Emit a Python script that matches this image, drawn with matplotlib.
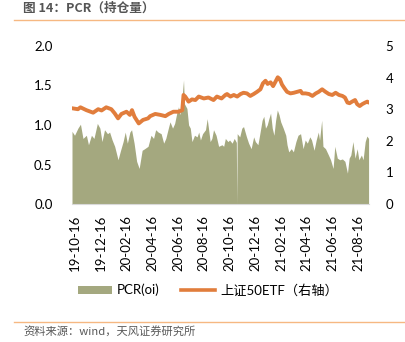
import matplotlib
matplotlib.use("Agg")
import matplotlib.pyplot as plt
import matplotlib.dates as mdates
from matplotlib.lines import Line2D
from matplotlib.patches import Patch
import pandas as pd

plt.rcParams["font.family"] = ["Lato", "Noto Sans CJK SC", "DejaVu Sans"]

# PCR (open interest), left axis
pcr_dates = [
    "2019-10-09", "2019-10-15", "2019-10-23", "2019-10-29", "2019-11-04", "2019-11-12",
    "2019-11-17", "2019-11-24", "2019-11-30", "2019-12-08", "2019-12-14", "2019-12-19",
    "2019-12-25", "2020-01-01", "2020-01-06", "2020-01-12", "2020-01-18", "2020-01-26",
    "2020-02-01", "2020-02-07", "2020-02-12", "2020-02-17", "2020-02-23", "2020-02-27",
    "2020-03-04", "2020-03-10", "2020-03-16", "2020-03-23", "2020-03-29", "2020-04-06",
    "2020-04-13", "2020-04-19", "2020-04-24", "2020-04-30", "2020-05-07", "2020-05-13",
    "2020-05-18", "2020-05-25", "2020-05-28", "2020-06-03", "2020-06-08", "2020-06-13",
    "2020-06-17", "2020-06-21", "2020-06-25", "2020-06-29", "2020-07-01", "2020-07-07",
    "2020-07-11", "2020-07-15", "2020-07-19", "2020-07-25", "2020-07-31", "2020-08-04",
    "2020-08-08", "2020-08-13", "2020-08-20", "2020-08-24", "2020-08-27", "2020-08-31",
    "2020-09-04", "2020-09-08", "2020-09-14", "2020-09-20", "2020-09-28", "2020-10-02",
    "2020-10-06", "2020-10-12", "2020-10-16", "2020-10-22", "2020-10-27", "2020-11-01",
    "2020-11-02", "2020-11-03", "2020-11-09", "2020-11-14", "2020-11-18", "2020-11-25",
    "2020-11-30", "2020-12-06", "2020-12-12", "2020-12-16", "2020-12-22", "2020-12-26",
    "2021-01-01", "2021-01-05", "2021-01-09", "2021-01-13", "2021-01-17", "2021-01-21",
    "2021-01-25", "2021-01-29", "2021-02-02", "2021-02-06", "2021-02-10", "2021-02-14",
    "2021-02-20", "2021-02-26", "2021-03-01", "2021-03-05", "2021-03-11", "2021-03-16",
    "2021-03-22", "2021-03-27", "2021-04-02", "2021-04-08", "2021-04-13", "2021-04-18",
    "2021-04-24", "2021-04-28", "2021-05-04", "2021-05-09", "2021-05-14", "2021-05-17",
    "2021-05-22", "2021-05-25", "2021-05-31", "2021-06-07", "2021-06-12", "2021-06-18",
    "2021-06-22", "2021-06-28", "2021-07-04", "2021-07-10", "2021-07-16", "2021-07-22",
    "2021-07-26", "2021-07-30", "2021-08-04", "2021-08-09", "2021-08-14", "2021-08-18",
    "2021-08-24", "2021-08-28", "2021-09-02", "2021-09-06", "2021-09-10",
]
pcr_values = [
    0.92, 0.87, 0.96, 1.01, 0.83, 0.87,
    0.75, 0.87, 0.83, 1.02, 0.96, 0.79,
    0.94, 0.89, 0.91, 0.81, 0.73, 0.56,
    0.68, 0.79, 0.91, 0.77, 0.91, 0.94,
    0.77, 0.54, 0.45, 0.68, 0.70, 0.73,
    0.87, 0.83, 0.94, 0.91, 0.89, 0.77,
    0.83, 0.98, 1.04, 0.96, 1.02, 1.15,
    1.23, 1.13, 1.32, 1.57, 1.27, 1.21,
    1.00, 0.96, 0.79, 0.87, 0.85, 0.91,
    0.81, 0.89, 0.94, 1.08, 0.96, 0.79,
    0.83, 0.94, 0.87, 0.73, 0.75, 0.73,
    0.83, 0.79, 0.81, 0.77, 0.83, 0.78,
    0.00, 0.89, 0.85, 0.96, 0.98, 0.85,
    0.77, 0.70, 0.85, 0.79, 0.75, 0.87,
    1.06, 1.11, 0.96, 1.00, 1.08, 1.15,
    0.96, 0.87, 1.06, 1.19, 1.13, 1.04,
    0.96, 0.87, 0.75, 0.66, 0.70, 0.66,
    0.79, 0.87, 0.89, 0.70, 0.81, 0.77,
    0.85, 0.81, 0.68, 0.81, 0.91, 0.81,
    1.06, 0.73, 0.70, 0.62, 0.56, 0.45,
    0.73, 0.58, 0.56, 0.57, 0.54, 0.39,
    0.58, 0.62, 0.79, 0.58, 0.70, 0.56,
    0.62, 0.56, 0.79, 0.86, 0.83,
]

# 上证50ETF close, right axis
etf_dates = [
    "2019-10-09", "2019-10-23", "2019-10-29", "2019-11-12", "2019-11-28", "2019-12-10",
    "2019-12-18", "2019-12-29", "2020-01-10", "2020-01-18", "2020-01-26", "2020-02-03",
    "2020-02-15", "2020-02-23", "2020-02-28", "2020-03-05", "2020-03-15", "2020-03-25",
    "2020-04-06", "2020-04-11", "2020-04-23", "2020-05-05", "2020-05-17", "2020-05-25",
    "2020-06-05", "2020-06-17", "2020-06-26", "2020-06-29", "2020-07-03", "2020-07-11",
    "2020-07-19", "2020-07-27", "2020-08-04", "2020-08-16", "2020-08-27", "2020-09-08",
    "2020-09-16", "2020-09-27", "2020-10-06", "2020-10-10", "2020-10-18", "2020-10-26",
    "2020-11-03", "2020-11-11", "2020-11-18", "2020-11-26", "2020-12-04", "2020-12-12",
    "2020-12-20", "2020-12-28", "2021-01-03", "2021-01-09", "2021-01-14", "2021-01-21",
    "2021-01-27", "2021-02-02", "2021-02-07", "2021-02-12", "2021-02-17", "2021-02-23",
    "2021-03-01", "2021-03-09", "2021-03-17", "2021-03-25", "2021-04-02", "2021-04-06",
    "2021-04-14", "2021-04-22", "2021-04-30", "2021-05-08", "2021-05-15", "2021-05-23",
    "2021-05-31", "2021-06-08", "2021-06-16", "2021-06-24", "2021-07-02", "2021-07-10",
    "2021-07-16", "2021-07-22", "2021-07-27", "2021-08-02", "2021-08-09", "2021-08-14",
    "2021-08-20", "2021-08-26", "2021-09-02", "2021-09-07", "2021-09-10",
]
etf_values = [
    3.03, 3.00, 3.06, 2.97, 2.89, 3.00,
    2.96, 3.06, 3.00, 2.87, 2.71, 2.85,
    2.92, 2.82, 2.97, 2.76, 2.55, 2.66,
    2.71, 2.78, 2.85, 2.82, 2.78, 2.85,
    2.92, 2.92, 2.97, 3.45, 3.40, 3.24,
    3.31, 3.29, 3.40, 3.34, 3.37, 3.29,
    3.40, 3.34, 3.45, 3.48, 3.40, 3.45,
    3.40, 3.48, 3.52, 3.50, 3.42, 3.48,
    3.55, 3.63, 3.82, 3.90, 3.80, 3.85,
    3.73, 3.88, 4.01, 3.95, 3.78, 3.66,
    3.55, 3.50, 3.52, 3.55, 3.58, 3.50,
    3.50, 3.48, 3.42, 3.50, 3.55, 3.63,
    3.55, 3.48, 3.45, 3.52, 3.45, 3.42,
    3.37, 3.21, 3.19, 3.24, 3.29, 3.16,
    3.10, 3.16, 3.21, 3.24, 3.21,
]

PCR_COLOR = "#A4A87F"
ETF_COLOR = "#E17D3C"
RULE_COLOR = "#F6B882"

W, H = 405, 342
fig = plt.figure(figsize=(W / 100, H / 100), dpi=100)

# header / footer rules and captions
fig.add_artist(Line2D([14 / W, 1], [1 - 19.5 / H] * 2, color=RULE_COLOR, lw=1.0))
fig.add_artist(Line2D([14 / W, 1], [1 - 322 / H] * 2, color=RULE_COLOR, lw=1.0))
fig.text(23 / W, 1 - 8 / H, "图 14：PCR（持仓量）", fontsize=9.1, color="#555555",
         fontweight="bold", family=["Noto Sans CJK SC", "DejaVu Sans"], va="center")
fig.text(23 / W, 1 - 332.5 / H, "资料来源：wind，天风证券研究所", fontsize=8.1,
         color="#595959", family=["Noto Sans CJK SC", "DejaVu Sans"], va="center")

ax = fig.add_axes([72 / W, 1 - 204 / H, (369 - 72) / W, (204 - 46) / H])
ax2 = ax.twinx()

pcr_x = pd.to_datetime(pcr_dates)
etf_x = pd.to_datetime(etf_dates)

ax.fill_between(pcr_x, pcr_values, 0, color=PCR_COLOR, lw=0)
ax2.plot(etf_x, etf_values, color=ETF_COLOR, lw=2.8, solid_capstyle="round")

ax.set_ylim(0, 2.0)
ax.set_yticks([0, 0.5, 1.0, 1.5, 2.0])
ax.yaxis.set_major_formatter(matplotlib.ticker.FormatStrFormatter("%.1f"))
ax2.set_ylim(0, 5)
ax2.set_yticks(range(6))
ax.set_xlim(pd.Timestamp("2019-10-09"), pd.Timestamp("2021-09-11"))

ax.xaxis.set_major_locator(mdates.MonthLocator(bymonth=[2, 4, 6, 8, 10, 12], bymonthday=16))
ax.xaxis.set_major_formatter(mdates.DateFormatter("%y-%m-%d"))

for a in (ax, ax2):
    for side in ("top", "left", "right", "bottom"):
        a.spines[side].set_visible(False)
    a.tick_params(length=0, labelsize=9.5, colors="black")
ax.spines["bottom"].set_visible(True)
ax.spines["bottom"].set_color("#D9D9D9")
ax.tick_params(axis="y", pad=14)
ax2.tick_params(axis="y", pad=12)
ax.tick_params(axis="x", pad=8, labelrotation=90)

handles = [
    Patch(facecolor=PCR_COLOR, edgecolor="none"),
    Line2D([], [], color=ETF_COLOR, lw=2.6),
]
fig.legend(handles, ["PCR(oi)", "上证50ETF（右轴）"], loc="center",
           bbox_to_anchor=(208 / W, 1 - 290 / H), ncol=2, frameon=False,
           fontsize=9.5, handlelength=2.6, handleheight=0.6, columnspacing=1.6,
           handletextpad=0.4)

fig.savefig("out.png", dpi=100)
